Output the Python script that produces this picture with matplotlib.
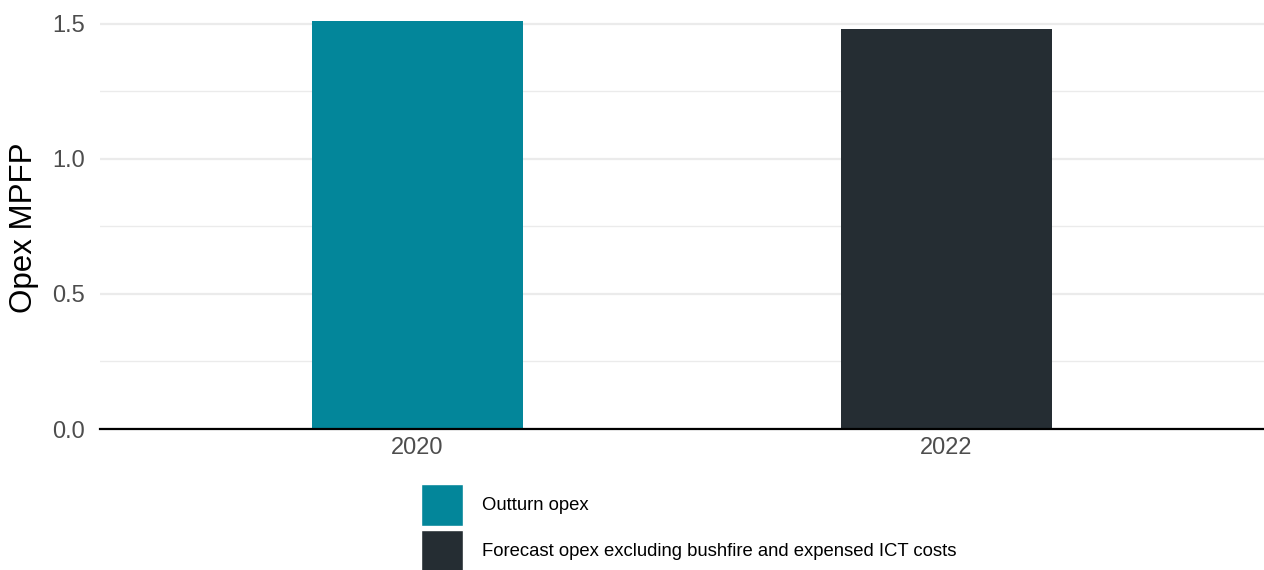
import matplotlib.pyplot as plt
from matplotlib.patches import Rectangle

plt.rcParams['font.family'] = ['Liberation Sans', 'DejaVu Sans']

# Data
years = ['2020', '2022']
mpfp = [1.511, 1.480]
series = ['Outturn opex', 'Forecast opex excluding bushfire and expensed ICT costs']
colors = ['#03869A', '#252D33']

W, H = 1264, 570
fig = plt.figure(figsize=(W / 100, H / 100), dpi=100)
ax = fig.add_axes([100 / W, 141 / H, 1164 / W, 429 / H])

x = range(len(years))
ax.bar(x, mpfp, width=0.4, color=colors, zorder=3)

ax.set_xlim(-0.6, 1.6)
ax.set_ylim(0, 1.587)
ax.set_xticks(list(x))
ax.set_xticklabels(years)
ax.set_yticks([0, 0.5, 1.0, 1.5])
ax.set_yticklabels(['0.0', '0.5', '1.0', '1.5'])
ax.set_yticks([0.25, 0.75, 1.25], minor=True)

ax.grid(axis='y', which='major', color='#EBEBEB', linewidth=1.6, zorder=0)
ax.grid(axis='y', which='minor', color='#EBEBEB', linewidth=1.0, zorder=0)
ax.grid(axis='x', visible=False)

for s in ['top', 'right', 'left']:
    ax.spines[s].set_visible(False)
ax.spines['bottom'].set_color('black')
ax.spines['bottom'].set_linewidth(1.6)
ax.spines['bottom'].set_zorder(4)

ax.tick_params(axis='both', which='both', length=0, labelsize=17, labelcolor='#4D4D4D')
ax.tick_params(axis='x', pad=6)
ax.tick_params(axis='y', pad=11)
ax.set_ylabel('Opex MPFP', fontsize=22.5, color='black')
ax.yaxis.set_label_coords(-0.052, 0.469)

# legend, drawn by hand to get the ggplot-style big keys
key_x, key_w, key_h, step = 421, 42, 42, 46
for i, (lab, c) in enumerate(zip(series, colors)):
    top = 484 + i * step
    fig.add_artist(Rectangle((key_x / W, 1 - (top + key_h) / H), key_w / W, key_h / H,
                             transform=fig.transFigure, facecolor=c, edgecolor='white',
                             linewidth=1))
    fig.text(482 / W, 1 - (top + key_h / 2) / H, lab, fontsize=13.3,
             ha='left', va='center', color='black')

fig.savefig('out.png', dpi=100)
